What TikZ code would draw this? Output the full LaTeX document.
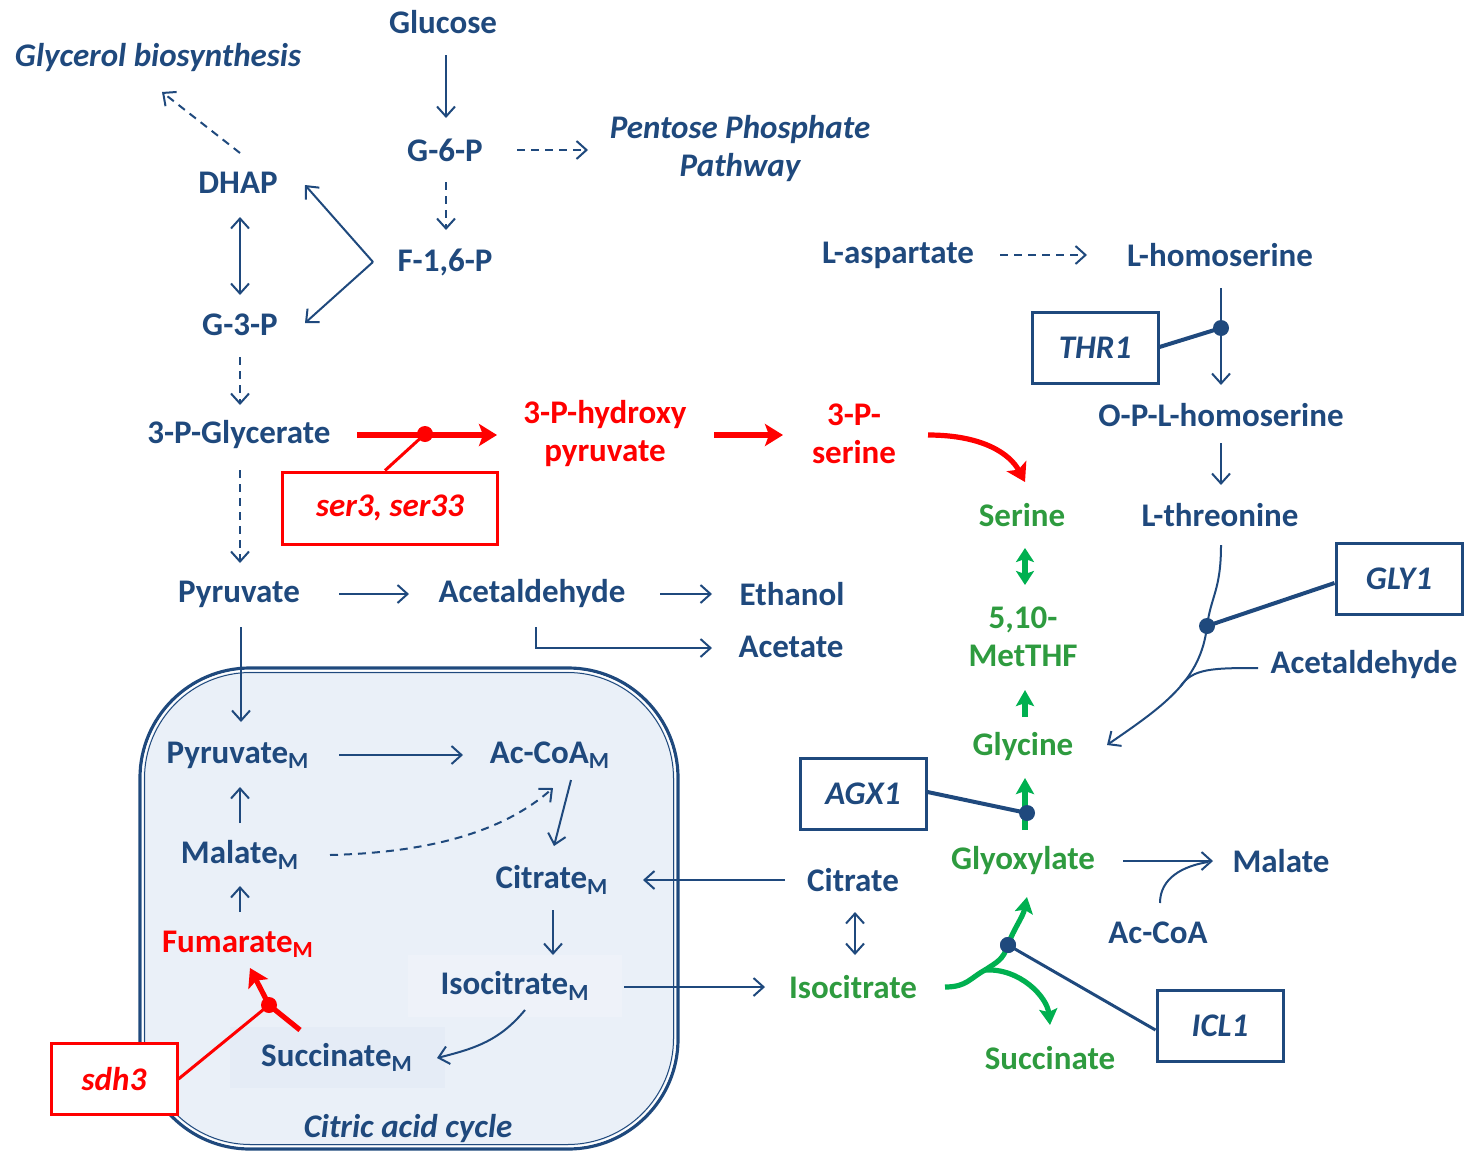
\documentclass[tikz,border=0pt]{standalone}
\usepackage{fontspec}
\setmainfont{Carlito}
\usetikzlibrary{arrows.meta,calc}
\definecolor{nv}{HTML}{1F497D}
\definecolor{rd}{HTML}{FF0000}
\definecolor{gt}{HTML}{2E9B3F}
\definecolor{ag}{HTML}{00B050}
\definecolor{mito}{HTML}{EAF0F8}
\definecolor{isobg}{HTML}{EEF2F9}
\definecolor{sucbg}{HTML}{E5ECF6}
\begin{document}
\begin{tikzpicture}[x=0.5pt,y=-0.5pt,
  every node/.style={font=\bfseries\fontsize{16.5}{19}\selectfont, inner sep=0pt, align=center},
  tb/.style={text=nv},
  tr/.style={text=rd},
  tg/.style={text=gt},
  ti/.style={text=nv, font=\bfseries\itshape\fontsize{16.5}{19}\selectfont},
  ebox/.style={draw=nv, line width=1.5pt, fill=white, text=nv, minimum width=63pt, minimum height=35.5pt, font=\bfseries\itshape\fontsize{16.5}{19}\selectfont},
  rbox/.style={ebox, draw=rd, text=rd},
  ar/.style={draw=nv, line width=1pt, -{Straight Barb[length=5pt,width=9pt]}},
  dar/.style={ar, dash pattern=on 4pt off 3pt},
  dbl/.style={draw=nv, line width=1pt, {Straight Barb[length=5pt,width=9pt]}-{Straight Barb[length=5pt,width=9pt]}},
  rar/.style={draw=rd, line width=2.6pt, -{Stealth[length=9pt,width=11pt,inset=2pt]}},
  gar/.style={draw=ag, line width=2.6pt, -{Stealth[length=8pt,width=9pt,inset=1.5pt]}},
  link/.style={draw=nv, line width=2pt},
  rlink/.style={draw=rd, line width=1.5pt},
  dotn/.style={circle, fill=nv, minimum size=8pt},
  rdot/.style={circle, fill=rd, minimum size=8pt}]
\useasboundingbox (0,0) rectangle (1466,1151);
% mitochondrion
\path[fill=mito, draw=nv, line width=1.6pt, rounded corners=55pt] (140,668) rectangle (678,1149);
\path[draw=white, line width=0.7pt, rounded corners=54pt] (142.5,670.5) rectangle (675.5,1146.5);
\path[draw=nv, line width=0.5pt, rounded corners=53pt] (144.5,672.5) rectangle (673.5,1144.5);

% nodes
\node[tb] (glucose) at (443,22) {Glucose};
\node[ti] (glycerol) at (158,58) {Glycerol biosynthesis};
\node[tb] (g6p) at (445,150) {G-6-P};
\node[ti] (ppp) at (740,149) {Pentose Phosphate\\Pathway};
\node[tb] (dhap) at (238,183) {DHAP};
\node[tb] (f16p) at (445,262) {F-1,6-P};
\node[tb] (g3p) at (240,325) {G-3-P};
\node[tb] (lasp) at (898,255) {L-aspartate};
\node[tb] (lhom) at (1220,255) {L-homoserine};
\node[ebox] (thr1) at (1095,348) {THR1};
\node[tb] (oplh) at (1221,415) {O-P-L-homoserine};
\node[tb] (pgly) at (239,435) {3-P-Glycerate};
\node[tr] (phpyr) at (605,434) {3-P-hydroxy\\pyruvate};
\node[tr] (pser) at (854,434) {3-P-\\serine};
\node[rbox, minimum width=107.5pt, minimum height=36pt] (ser3) at (390,508) {ser3, ser33};
\node[tg] (serine) at (1022,515) {Serine};
\node[tb] (lthr) at (1220,515) {L-threonine};
\node[ebox] (gly1) at (1399,579) {GLY1};
\node[tb] (pyr) at (239,594) {Pyruvate};
\node[tb] (acald) at (532,594) {Acetaldehyde};
\node[tb] (ethanol) at (792,594) {Ethanol};
\node[tb] (acetate) at (791,647) {Acetate};
\node[tg] (methf) at (1023,637) {5,10-\\MetTHF};
\node[tb] (acald2) at (1364,665) {Acetaldehyde};
\node[tg] (glycine) at (1023,747) {Glycine};
\node[ebox] (agx1) at (863,794) {AGX1};
\node[tb] (pyrm) at (238,755) {Pyruvate\textsubscript{M}};
\node[tb] (acoam) at (550,755) {Ac-CoA\textsubscript{M}};
\node[tb] (malm) at (240,855) {Malate\textsubscript{M}};
\node[tb] (citm) at (552,880) {Citrate\textsubscript{M}};
\node[tb] (citrate) at (853,880) {Citrate};
\node[tg] (glyox) at (1023,861) {Glyoxylate};
\node[tb] (malate) at (1281,861) {Malate};
\node[tb] (acoa) at (1158,933) {Ac-CoA};
\node[tr] (fumm) at (238,944) {Fumarate\textsubscript{M}};
\node[tb, fill=isobg, minimum width=107pt, minimum height=31pt] (isom) at (515,986) {Isocitrate\textsubscript{M}};
\node[tg] (iso) at (853,987) {Isocitrate};
\node[ebox] (icl1) at (1220,1026) {ICL1};
\node[tb, fill=sucbg, minimum width=107.5pt, minimum height=30.5pt] (sucm) at (337,1057) {Succinate\textsubscript{M}};
\node[tg] (suc) at (1050,1058) {Succinate};
\node[rbox] (sdh3) at (114,1079) {sdh3};
\node[ti] (cac) at (408,1128) {Citric acid cycle};

% glycolysis
\draw[ar] ($(glucose)+(3,33)$) -- ($(g6p)+(1,-32)$);
\draw[dar] ($(g6p)+(1,32)$) -- ($(f16p)+(1,-32)$);
\draw[dar] ($(g6p)+(72,0)$) -- ($(ppp)+(-152,1)$);
\coordinate (fv) at ($(f16p)+(-72,0)$);
\draw[ar] (fv) -- ($(dhap)+(67,2)$);
\draw[ar] (fv) -- ($(g3p)+(65,-2)$);
\draw[dbl] ($(dhap)+(2,34)$) -- ($(g3p)+(0,-30)$);
\draw[dar] ($(dhap)+(2,-30)$) -- ($(glycerol)+(4,34)$);
\draw[dar] ($(g3p)+(0,32)$) -- ($(pgly)+(1,-30)$);
\draw[dar] ($(pgly)+(1,35)$) -- ($(pyr)+(1,-31)$);

% serine pathway (red)
\draw[rar] ($(pgly)+(118,0)$) -- ($(phpyr)+(-108,1)$);
\node[rdot] (serdot) at ($(pgly)+(186,-1)$) {};
\draw[rlink] (serdot.center) -- ($(ser3.north)+(-5,0)$);
\draw[rar] ($(phpyr)+(109,1)$) -- ($(pser)+(-71,1)$);
\draw[rar] ($(pser)+(74,1)$) .. controls +(55,0) and +(-15,-28) .. ($(serine)+(3,-33)$);

% threonine pathway
\draw[dar] ($(lasp)+(102,0)$) -- ($(lhom)+(-133,0)$);
\draw[ar] ($(lhom)+(1,33)$) -- ($(oplh)+(0,-30)$);
\node[dotn] (thrdot) at ($(lhom)+(1,73)$) {};
\draw[link] ($(thr1.east)+(0,-1)$) -- (thrdot.center);
\draw[ar] ($(oplh)+(0,28)$) -- ($(lthr)+(1,-30)$);
\node[dotn] (glydot) at ($(lthr)+(-13,111)$) {};
\draw[ar] ($(lthr)+(1,30)$) .. controls +(0,45) and +(4,-30) .. (glydot.center) .. controls +(-6,55) and +(55,-38) .. ($(glycine)+(84,-2)$) coordinate[pos=0.45] (merge);
\draw[draw=nv, line width=1pt] ($(acald2)+(-106,3)$) .. controls +(-45,0) and +(12,-18) .. (merge);
\draw[link] ($(gly1.west)+(0,4)$) -- (glydot.center);

% green one-carbon
\draw[draw=ag, line width=2.6pt, {Stealth[length=7pt,width=9pt,inset=1.5pt]}-{Stealth[length=7pt,width=9pt,inset=1.5pt]}] ($(serine)+(3,33)$) -- ($(methf)+(2,-52)$);
\draw[gar] ($(glycine)+(2,-30)$) -- ($(methf)+(2,53)$);
\draw[gar] ($(glyox)+(2,-31)$) -- ($(glycine)+(2,31)$);
\node[dotn] (agxdot) at ($(glyox)+(4,-48)$) {};
\draw[link] ($(agx1.east)+(0,-2)$) -- (agxdot.center);

% fermentation
\draw[ar] ($(pyr)+(100,0)$) -- ($(acald)+(-123,0)$);
\draw[ar] ($(acald)+(128,0)$) -- ($(ethanol)+(-80,0)$);
\draw[ar] ($(acald)+(4,33)$) |- ($(acetate)+(-79,1)$);

% mitochondrion
\draw[ar] ($(pyr)+(2,33)$) -- ($(pyrm)+(3,-33)$);
\draw[ar] ($(pyrm)+(101,0)$) -- ($(acoam)+(-87,0)$);
\draw[ar] ($(acoam)+(21,25)$) -- ($(citm)+(2,-34)$);
\draw[dar] ($(malm)+(90,0)$) .. controls +(120,-3) and +(-40,35) .. ($(acoam)+(3,33)$);
\draw[ar] ($(malm)+(0,-32)$) -- ($(pyrm)+(2,32)$);
\draw[ar] ($(fumm)+(2,-32)$) -- ($(malm)+(0,31)$);
\node[rdot] (sdhdot) at ($(sucm)+(-68,-52)$) {};
\draw[rar] ($(sucm)+(-37,-27)$) -- (sdhdot.center) -- ($(fumm)+(12,24)$);
\draw[rlink] (sdh3.east) -- (sdhdot.center);
\draw[ar] ($(citm)+(1,30)$) -- ($(isom)+(38,-31)$);
\draw[ar] ($(isom)+(10,24)$) .. controls +(-25,30) and +(40,-10) .. ($(sucm)+(100,1)$);
\draw[ar] ($(citrate)+(-68,0)$) -- ($(citm)+(91,0)$);
\draw[ar] ($(isom)+(109,1)$) -- ($(iso)+(-88,0)$);
\draw[dbl] ($(citrate)+(2,32)$) -- ($(iso)+(2,-32)$);

% glyoxylate shunt
\coordinate (gsplit) at ($(iso)+(132,-17)$);
\node[dotn] (icldot) at ($(iso)+(155,-42)$) {};
\draw[draw=ag, line width=2.6pt] ($(iso)+(92,0)$) .. controls +(22,0) and +(-15,8) .. (gsplit);
\draw[gar] (gsplit) .. controls +(12,-8) and +(-5,15) .. (icldot.center) .. controls +(5,-15) and +(-4,20) .. ($(glyox)+(4,36)$);
\draw[gar] (gsplit) .. controls +(35,-2) and +(-3,-28) .. ($(suc)+(0,-33)$);
\fill[nv] (icldot) circle[radius=4pt];
\draw[draw=nv, line width=1.5pt] (icldot.center) -- ($(icl1.west)+(0,4)$);
\draw[ar] ($(glyox)+(100,0)$) -- ($(malate)+(-68,0)$);
\draw[draw=nv, line width=1pt] ($(acoa)+(2,-30)$) .. controls +(0,-25) and +(-25,4) .. ($(malate)+(-73,1)$);
\end{tikzpicture}
\end{document}
